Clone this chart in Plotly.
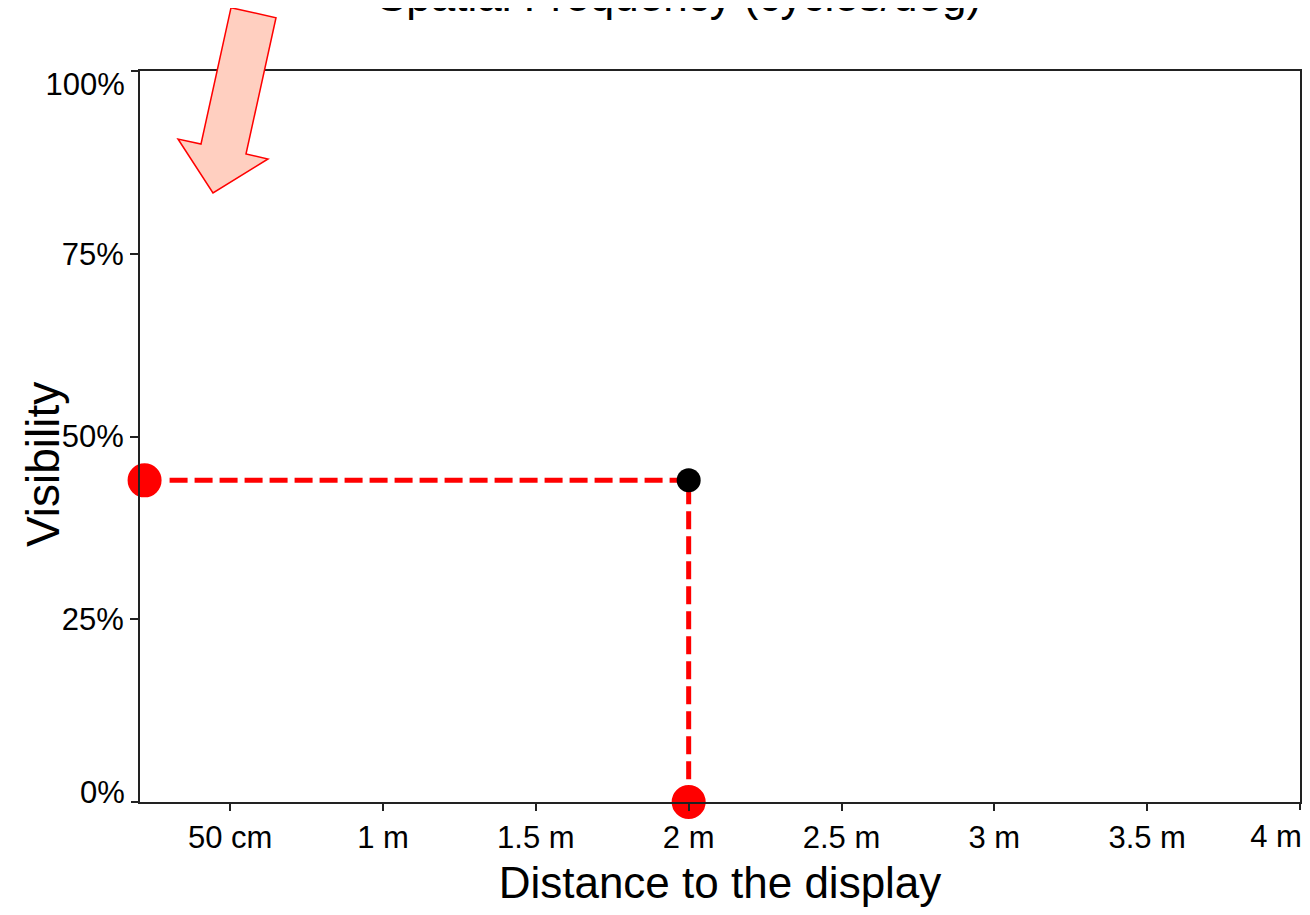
import plotly.graph_objects as go

# ---- data ----
distance_m = [0.22, 2.0, 2.0]          # guide path: y-axis point -> measured point -> x-axis point
visibility_pct = [44, 44, 0]
measured_x = [2.0]
measured_y = [44]
axis_pts_x = [0.22, 2.0]
axis_pts_y = [44, 0]

x_tickvals = [0.5, 1.0, 1.5, 2.0, 2.5, 3.0, 3.5]
x_ticktext = ["50 cm", "1 m", "1.5 m", "2 m", "2.5 m", "3 m", "3.5 m"]
x_end_val = [4.0]
x_end_text = ["4 m"]
y_tickvals = [25, 50, 75]
y_ticktext = ["25%", "50%", "75%"]
y_top_val = [100]
y_top_text = ["100%"]
y_bot_val = [0]
y_bot_text = ["0%"]

# page has an 8px body margin: figure is placed at (8, 8)
OFF = 8
W, H = 1302, 899
L, T = 140 - OFF, 71 - OFF
R = W - (1300 - OFF)
B = H - (802 - OFF)
PW, PH = W - L - R, H - T - B

FONT = "Liberation Sans, Arial, Helvetica, sans-serif"
AX = "#222222"

fig = go.Figure()
fig.add_trace(go.Scatter(x=distance_m, y=visibility_pct, mode="lines",
                         line=dict(color="#ff0000", width=5, dash="18px,7px"),
                         hoverinfo="skip", cliponaxis=False, showlegend=False))
fig.add_trace(go.Scatter(x=measured_x, y=measured_y, mode="markers",
                         marker=dict(color="black", size=24, line=dict(width=0)),
                         cliponaxis=False, showlegend=False))
fig.add_trace(go.Scatter(x=axis_pts_x, y=axis_pts_y, mode="markers",
                         marker=dict(color="#ff0000", size=36, line=dict(color="white", width=2)),
                         cliponaxis=False, showlegend=False))

xr = [0.205, 4.0]
yr = [0, 100]
tickfont = dict(family=FONT, size=31, color="black")

common_x = dict(range=xr, showgrid=False, zeroline=False, ticks="outside",
                ticklen=7, tickwidth=2, tickcolor=AX, tickfont=tickfont)
common_y = dict(range=yr, showgrid=False, zeroline=False, ticks="outside",
                ticklen=8, tickwidth=2, tickcolor=AX, tickfont=tickfont)

fig.update_layout(
    width=W, height=H,
    margin=dict(l=L, r=R, t=T, b=B, autoexpand=False),
    paper_bgcolor="white", plot_bgcolor="white",
    font=dict(family=FONT, color="black"),
    xaxis=dict(**common_x, tickvals=x_tickvals, ticktext=x_ticktext,
               showline=True, linecolor=AX, linewidth=2, mirror=True,
               title=dict(text="Distance to the display", font=dict(family=FONT, size=44),
                          standoff=31)),
    xaxis2=dict(**common_x, overlaying="x", anchor="y", side="bottom",
                tickvals=x_end_val, ticktext=x_end_text, ticklabelshift=-24,
                showline=False),
    yaxis=dict(**common_y, tickvals=y_tickvals, ticktext=y_ticktext,
               showline=True, linecolor=AX, linewidth=2, mirror=True),
    yaxis2=dict(**common_y, overlaying="y", anchor="x", side="left",
                tickvals=y_top_val, ticktext=y_top_text, ticklabelshift=13,
                showline=False),
    yaxis3=dict(**common_y, overlaying="y", anchor="x", side="left",
                tickvals=y_bot_val, ticktext=y_bot_text, ticklabelshift=-10,
                showline=False),
    showlegend=False,
)
# invisible traces so the overlay axes are drawn
fig.add_trace(go.Scatter(x=[None], y=[None], xaxis="x2", yaxis="y", showlegend=False, hoverinfo="skip"))
fig.add_trace(go.Scatter(x=[None], y=[None], xaxis="x", yaxis="y2", showlegend=False, hoverinfo="skip"))
fig.add_trace(go.Scatter(x=[None], y=[None], xaxis="x", yaxis="y3", showlegend=False, hoverinfo="skip"))

# y-axis title and top title (positions given in page pixels)
fig.add_annotation(text="Visibility", xref="paper", yref="paper",
                   x=0, y=(802 - 465) / PH, xanchor="center", yanchor="middle",
                   xshift=-(140 - 43), textangle=-90, showarrow=False,
                   font=dict(family=FONT, size=46, color="black"))
fig.add_annotation(text="Spatial Frequency (cycles/deg)", xref="paper", yref="paper",
                   x=(679 - 140) / PW, y=1, xanchor="center", yanchor="bottom",
                   yshift=49, showarrow=False,
                   font=dict(family=FONT, size=44, color="black"))

# decorative arrow (page-pixel outline converted to paper coords)
arrow_px = [(231, 7.7), (276, 17.7), (246, 154), (268, 159), (213, 193), (178, 139), (201, 144)]
def to_paper(px, py):
    return (px - 140) / PW, (802 - py) / PH
pts = [to_paper(px, py) for px, py in arrow_px]
path = "M " + " L ".join(f"{x:.5f},{y:.5f}" for x, y in pts) + " Z"
fig.add_shape(type="path", path=path, xref="paper", yref="paper",
              fillcolor="#ffcfc0", line=dict(color="#ff0000", width=1.5), layer="above")

fig.write_html("out.html")
